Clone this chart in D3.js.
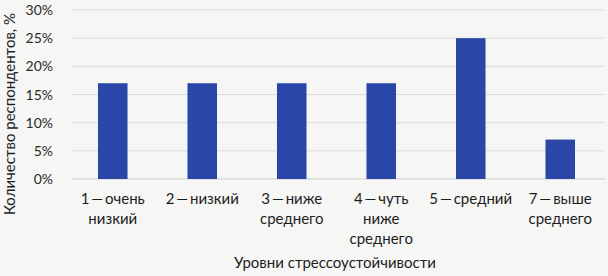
<!DOCTYPE html>
<html><head><meta charset="utf-8">
<script src="https://cdn.jsdelivr.net/npm/d3@7"></script>
<style>
html,body{margin:0;padding:0;background:#f6f6f5;}
svg{display:block;font-family:Lato,"Open Sans",sans-serif;}
</style></head>
<body><svg id="c" width="608" height="276"></svg>
<script>
const categories = [["1\u2009—\u2009очень","низкий"],["2\u2009—\u2009низкий"],["3\u2009—\u2009ниже","среднего"],["4\u2009—\u2009чуть","ниже","среднего"],["5\u2009—\u2009средний"],["7\u2009—\u2009выше","среднего"]];
const values = [17,17,17,17,25,7];
const yTicks = [0,5,10,15,20,25,30];
const yTitle = "Количество респондентов, %";
const xTitle = "Уровни стрессоустойчивости";

const svg = d3.select("#c");
const x = d3.scaleBand().domain(d3.range(categories.length)).range([68,605]).paddingInner(0.67).paddingOuter(0.335);
const y = d3.scaleLinear().domain([0,30]).range([179,10]);

svg.append("g").selectAll("line").data(yTicks).join("line")
  .attr("x1",72).attr("x2",605).attr("y1",d=>y(d)).attr("y2",d=>y(d))
  .attr("stroke",d=>d===0?"#cfcfcf":"#dcdcdc").attr("stroke-width",1);

svg.append("g").selectAll("text").data(yTicks).join("text")
  .attr("x",53).attr("y",d=>y(d)).attr("dy","0.36em").attr("text-anchor","end")
  .attr("font-size",14).attr("fill","#2a2a2a").text(d=>d+"%");

svg.append("g").selectAll("rect").data(values).join("rect")
  .attr("x",(d,i)=>x(i)).attr("width",x.bandwidth())
  .attr("y",d=>y(d)).attr("height",d=>y(0)-y(d)).attr("fill","#2a47a8");

const lab = svg.append("g").selectAll("text").data(categories).join("text")
  .attr("x",(d,i)=>x(i)+x.bandwidth()/2).attr("y",204).attr("text-anchor","middle")
  .attr("font-size",15).attr("fill","#1e1e1e");
lab.selectAll("tspan").data(d=>d).join("tspan")
  .attr("x",function(){return this.parentNode.getAttribute("x");})
  .attr("dy",(d,i)=>i===0?0:20).text(d=>d);

svg.append("text").attr("x",335).attr("y",268).attr("text-anchor","middle")
  .attr("font-size",15).attr("fill","#1e1e1e").text(xTitle);

svg.append("text").attr("transform","translate(15,114) rotate(-90)").attr("text-anchor","middle")
  .attr("font-size",15).attr("fill","#1e1e1e").text(yTitle);
</script></body></html>
